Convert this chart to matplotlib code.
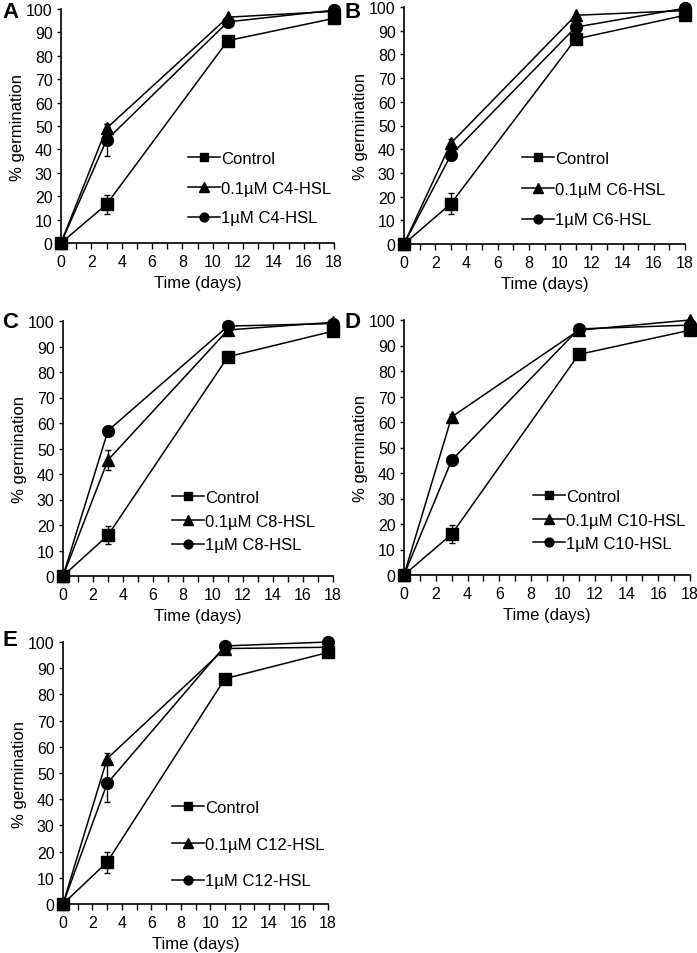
import matplotlib
matplotlib.use("Agg")
import matplotlib.pyplot as plt
from matplotlib.lines import Line2D
from matplotlib.ticker import MultipleLocator

plt.rcParams["font.family"] = ["Liberation Sans", "DejaVu Sans"]

# dados
dias = [0, 3, 11, 18]
paineis = ["A", "B", "C", "D", "E"]
compostos = ["C4-HSL", "C6-HSL", "C8-HSL", "C10-HSL", "C12-HSL"]

controle = [
    [0, 16.5, 86.5, 96],
    [0, 17, 86.5, 96.5],
    [0, 16, 86, 96],
    [0, 16, 86.5, 96],
    [0, 16, 86, 96],
]
controle_err = [
    [0, 4, 0, 0],
    [0, 4.5, 0, 0],
    [0, 3.5, 0, 0],
    [0, 3.5, 0, 0],
    [0, 4, 0, 0],
]
baixo = [  # 0.1 uM
    [0, 49, 96.5, 99],
    [0, 42.5, 96.5, 98.5],
    [0, 45.5, 96.5, 99.5],
    [0, 62, 96, 100],
    [0, 55.5, 97.5, 98],
]
baixo_err = [
    [0, 2, 0, 0],
    [0, 2, 0, 0],
    [0, 4, 0, 0],
    [0, 1, 0, 0],
    [0, 2, 0, 0],
]
alto = [  # 1 uM
    [0, 44, 94.5, 99.5],
    [0, 37.5, 91.5, 99.5],
    [0, 57, 98, 99],
    [0, 45, 96.5, 98],
    [0, 46, 98.5, 100],
]
alto_err = [
    [0, 7, 0, 0],
    [0, 0, 0, 0],
    [0, 0, 0, 0],
    [0, 0, 0, 0],
    [0, 7, 0, 0],
]

W, H = 697, 954
fig = plt.figure(figsize=(W / 100, H / 100), dpi=100)

# caixas dos eixos em pixels: esquerda, direita, topo, base
caixas = [
    (61, 334, 10, 244),
    (404, 685, 8, 245),
    (63, 333, 322, 577),
    (404, 690, 321, 576),
    (63, 328, 643, 905),
]
# legenda: x do início da linha, y do centro da primeira linha, espaçamento
legendas = [
    (188, 161, 0.88),
    (522, 161, 0.94),
    (172, 500, 0.52),
    (533, 499, 0.52),
    (172, 810, 1.3),
]
# posição das letras dos painéis (pixels)
letras = [(2, 12), (345, 12), (2, 322), (345, 322), (2, 640)]

fs = 11.5
fs_leg = 12

for i in range(5):
    l, r, t, b = caixas[i]
    ax = fig.add_axes([l / W, 1 - b / H, (r - l) / W, (b - t) / H])
    series = [
        (controle[i], controle_err[i], "s", 8.5, "Control"),
        (baixo[i], baixo_err[i], "^", 9, "0.1µM " + compostos[i]),
        (alto[i], alto_err[i], "o", 8.5, "1µM " + compostos[i]),
    ]
    handles = []
    for y, e, m, ms, lab in series:
        ax.errorbar(dias, y, yerr=e, fmt="none", ecolor="black",
                    elinewidth=1, capsize=2.5, capthick=1, clip_on=False,
                    zorder=2)
        ax.plot(dias, y, color="black", marker=m, markersize=ms,
                linewidth=1.1, clip_on=False, zorder=3)
        handles.append(Line2D([], [], color="black", marker=m,
                              markersize=ms * 0.75, linewidth=1.1, label=lab))
    ax.set_xlim(0, 18)
    ax.set_ylim(0, 100)
    ax.xaxis.set_major_locator(MultipleLocator(2))
    ax.xaxis.set_minor_locator(MultipleLocator(1))
    ax.yaxis.set_major_locator(MultipleLocator(10))
    ax.spines["top"].set_visible(False)
    ax.spines["right"].set_visible(False)
    ax.spines["left"].set_linewidth(1.2)
    ax.spines["bottom"].set_linewidth(1.2)
    ax.tick_params(axis="x", which="both", direction="out", length=4,
                   width=1, labelsize=fs, pad=4)
    ax.tick_params(axis="y", direction="out", length=3, width=1,
                   labelsize=fs, pad=3)
    ax.set_xlabel("Time (days)", fontsize=12, labelpad=4)
    ax.set_ylabel("% germination", fontsize=12, labelpad=1)

    lx, ly, esp = legendas[i]
    ax.legend(handles=handles, loc="upper left",
              bbox_to_anchor=(lx / W, 1 - (ly - 9) / H),
              bbox_transform=fig.transFigure, frameon=False, fontsize=fs_leg,
              handlelength=1.9, handletextpad=0.1, labelspacing=esp,
              borderpad=0, borderaxespad=0)

    px, py = letras[i]
    fig.text(px / W, 1 - py / H, paineis[i], fontsize=16, fontweight="bold",
             ha="left", va="center")

fig.savefig("out.png", dpi=100)
